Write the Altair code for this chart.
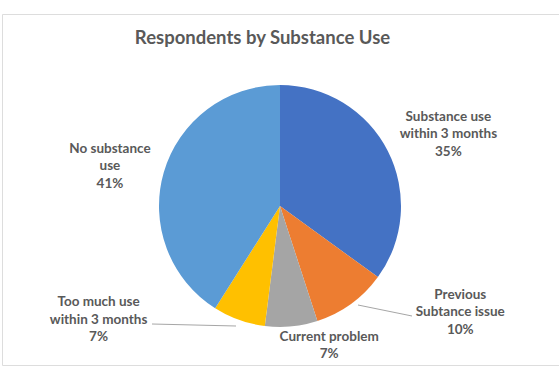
import math
import altair as alt
import pandas as pd

# ---- data ----
categories = [
    "Substance use within 3 months",
    "Previous Subtance issue",
    "Current problem",
    "Too much use within 3 months",
    "No substance use",
]
label_names = [
    "Substance use\nwithin 3 months",
    "Previous\nSubtance issue",
    "Current problem",
    "Too much use\nwithin 3 months",
    "No substance\nuse",
]
percents = [35, 10, 7, 7, 41]
colors = ["#4472C4", "#ED7D31", "#A5A5A5", "#FFC000", "#5B9BD5"]

# ---- layout (not data) ----
CX, CY, R = 278, 192, 121
FONT = "Lato"
TXT = "#595959"
# per-label placement: (radius from centre, dx, dy)
LABEL_LAYOUT = {
    "Substance use within 3 months": (180, 8, -7.5),
    "Previous Subtance issue": (140, 98, -24.5),
    "Current problem": (140, 36, -8.75),
    "Too much use within 3 months": (140, -134, -35.5),
    "No substance use": (175, -2, -8.5),
}

df = pd.DataFrame({
    "idx": list(range(len(categories))),
    "category": categories,
    "name": label_names,
    "value": percents,
})

theta_scale = alt.Scale(domain=[0, 100], range=[0, 2 * math.pi])

base = alt.Chart(df).transform_window(
    cum="sum(value)", sort=[alt.SortField("idx")], frame=[None, 0]
).transform_calculate(
    start="datum.cum - datum.value",
    mid="datum.cum - datum.value / 2",
    label="datum.name + '\\n' + datum.value + '%'",
)

pie = base.mark_arc(radius=R).encode(
    x=alt.value(CX),
    y=alt.value(CY),
    theta=alt.Theta("start:Q", scale=theta_scale),
    theta2="cum:Q",
    color=alt.Color("category:N", scale=alt.Scale(domain=categories, range=colors), legend=None),
)

layers = [pie]
for cat in categories:
    r, dx, dy = LABEL_LAYOUT[cat]
    layers.append(
        base.transform_filter(alt.datum.category == cat).mark_text(
            radius=r, dx=dx, dy=dy, font=FONT, fontSize=13.5, fontWeight="bold",
            color=TXT, lineBreak="\n", lineHeight=17.5, align="center", baseline="middle",
        ).encode(
            x=alt.value(CX),
            y=alt.value(CY),
            theta=alt.Theta("mid:Q", scale=theta_scale),
            text="label:N",
        )
    )

# leader lines
lines_df = pd.DataFrame({"category": ["Previous Subtance issue", "Too much use within 3 months"]})
lead1 = alt.Chart(lines_df).transform_filter(alt.datum.category == "Previous Subtance issue").mark_rule(
    color="#a6a6a6", strokeWidth=1
).encode(x=alt.value(356), y=alt.value(291), x2=alt.value(410), y2=alt.value(302))
lead2 = alt.Chart(lines_df).transform_filter(alt.datum.category == "Too much use within 3 months").mark_rule(
    color="#a6a6a6", strokeWidth=1
).encode(x=alt.value(150), y=alt.value(310), x2=alt.value(234), y2=alt.value(312))
layers += [lead1, lead2]

chart = alt.layer(*layers).properties(
    width=557,
    height=351,
    padding={"left": 2, "top": 14, "right": 0, "bottom": 13},
    autosize=alt.AutoSizeParams(type="none"),
    title=alt.TitleParams(
        "Respondents by Substance Use", font=FONT, fontSize=18.5, fontWeight="bold",
        color=TXT, anchor="middle", dx=-18, dy=42, offset=0, baseline="middle",
    ),
).configure_view(stroke="#d9d9d9", strokeWidth=1).configure(background="white")

chart.save("out.html", embed_options={"renderer": "svg", "actions": False})
